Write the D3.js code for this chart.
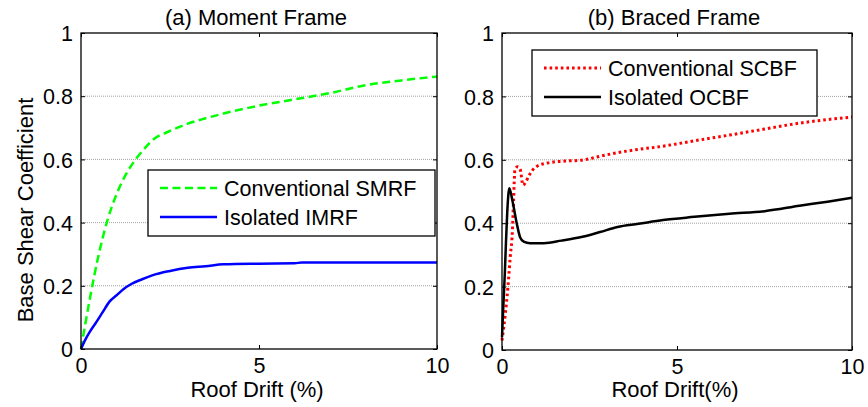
<!DOCTYPE html>
<html>
<head>
<meta charset="utf-8">
<script src="https://cdn.jsdelivr.net/npm/d3@7"></script>
<style>
  body { margin: 0; background: #fff; }
  svg text { font-family: "Liberation Sans", Arial, sans-serif; fill: #000; }
</style>
</head>
<body>
<svg width="868" height="407"></svg>
<script>
// ---- data ----
const xTicks = [0, 5, 10];
const yTicks = [0, 0.2, 0.4, 0.6, 0.8, 1];
const yTickLabels = ["0", "0.2", "0.4", "0.6", "0.8", "1"];

// (a) moment frame
const smrfDrift = [0, 0.25, 0.5, 0.75, 1.0, 1.25, 1.5, 1.75, 2.0, 2.5, 3.0, 3.5, 4.0, 5.0, 6.0, 7.0, 8.0, 9.0, 10];
const smrfShear = [0, 0.16, 0.30, 0.41, 0.49, 0.55, 0.595, 0.63, 0.66, 0.69, 0.713, 0.73, 0.745, 0.77, 0.79, 0.81, 0.835, 0.85, 0.862];
const imrfDrift = [0, 0.1, 0.25, 0.4, 0.6, 0.8, 1.0, 1.2, 1.4, 1.7, 2.0, 2.5, 3.0, 3.5, 4.0, 5.0, 6.0, 6.2, 8.0, 10];
const imrfShear = [0, 0.025, 0.055, 0.08, 0.115, 0.15, 0.17, 0.19, 0.205, 0.22, 0.233, 0.247, 0.257, 0.262, 0.268, 0.27, 0.271, 0.274, 0.274, 0.274];

// (b) braced frame
const scbfDrift = [0, 0.1, 0.17, 0.24, 0.29, 0.33, 0.37, 0.45, 0.52, 0.6, 0.68, 0.78, 0.95, 1.3, 1.8, 2.2, 3.0, 3.6, 4.6, 5.5, 6.5, 7.5, 8.4, 9.3, 10];
const scbfShear = [0.03, 0.12, 0.2, 0.3, 0.36, 0.47, 0.57, 0.578, 0.57, 0.52, 0.53, 0.552, 0.576, 0.59, 0.596, 0.598, 0.616, 0.628, 0.643, 0.66, 0.678, 0.697, 0.714, 0.727, 0.735];
const ocbfDrift = [0, 0.03, 0.08, 0.11, 0.15, 0.21, 0.3, 0.42, 0.52, 0.62, 0.8, 1.2, 1.7, 2.3, 2.8, 3.3, 3.9, 4.6, 5.5, 6.5, 7.5, 8.5, 9.3, 10];
const ocbfShear = [0.04, 0.12, 0.24, 0.33, 0.435, 0.51, 0.47, 0.40, 0.355, 0.342, 0.337, 0.337, 0.345, 0.357, 0.372, 0.388, 0.398, 0.41, 0.42, 0.43, 0.438, 0.455, 0.468, 0.48];

const svg = d3.select("svg");

const panels = [
    {
        title: "(a) Moment Frame", xLabel: "Roof Drift (%)", yLabel: "Base Shear Coefficient",
        left: 81, right: 437, top: 33, bottom: 349,
        legend: { x: 148, y: 170, w: 287, h: 66 },
        series: [
            { name: "Conventional SMRF", xs: smrfDrift, ys: smrfShear, color: "#00ff00", width: 2.5, dash: "8,4.5" },
            { name: "Isolated IMRF", xs: imrfDrift, ys: imrfShear, color: "#0000ff", width: 2.5, dash: null }
        ]
    },
    {
        title: "(b) Braced Frame", xLabel: "Roof Drift(%)", yLabel: null,
        left: 502, right: 852, top: 33, bottom: 350,
        legend: { x: 532, y: 50, w: 285, h: 66 },
        series: [
            { name: "Conventional SCBF", xs: scbfDrift, ys: scbfShear, color: "#ff0000", width: 3, dash: "2.6,3" },
            { name: "Isolated OCBF", xs: ocbfDrift, ys: ocbfShear, color: "#000000", width: 2.5, dash: null }
        ]
    }
];

panels.forEach(function(p) {
    const x = d3.scaleLinear().domain([0, 10]).range([p.left, p.right]);
    const y = d3.scaleLinear().domain([0, 1]).range([p.bottom, p.top]);
    const g = svg.append("g");

    // dotted horizontal grid
    g.selectAll(".grid")
        .data(yTicks.filter(function(d) { return d > 0 && d < 1; }))
        .enter().append("line")
        .attr("x1", p.left).attr("x2", p.right)
        .attr("y1", function(d) { return y(d); })
        .attr("y2", function(d) { return y(d); })
        .attr("stroke", "#a0a0a0")
        .attr("stroke-width", 1)
        .attr("stroke-dasharray", "1,1");

    // curves
    const line = d3.line()
        .x(function(d) { return x(d[0]); })
        .y(function(d) { return y(d[1]); })
        .curve(d3.curveMonotoneX);

    p.series.forEach(function(s) {
        const pts = s.xs.map(function(v, i) { return [v, s.ys[i]]; });
        g.append("path")
            .attr("d", line(pts))
            .attr("fill", "none")
            .attr("stroke", s.color)
            .attr("stroke-width", s.width)
            .attr("stroke-linejoin", "round")
            .attr("stroke-dasharray", s.dash);
    });

    // axes box
    g.append("rect")
        .attr("x", p.left).attr("y", p.top)
        .attr("width", p.right - p.left).attr("height", p.bottom - p.top)
        .attr("fill", "none").attr("stroke", "#000").attr("stroke-width", 1.3);

    // inward ticks, all four sides
    const yAxisL = d3.axisLeft(y).tickValues(yTicks).tickSize(-4).tickFormat(function(d, i) { return yTickLabels[i]; }).tickPadding(8);
    const yAxisR = d3.axisRight(y).tickValues(yTicks).tickSize(-4).tickFormat("");
    const xAxisB = d3.axisBottom(x).tickValues(xTicks).tickSize(-4).tickFormat(d3.format("d")).tickPadding(8);
    const xAxisT = d3.axisTop(x).tickValues(xTicks).tickSize(-4).tickFormat("");

    const gl = g.append("g").attr("transform", "translate(" + p.left + ",0)").call(yAxisL);
    g.append("g").attr("transform", "translate(" + p.right + ",0)").call(yAxisR);
    const gb = g.append("g").attr("transform", "translate(0," + p.bottom + ")").call(xAxisB);
    g.append("g").attr("transform", "translate(0," + p.top + ")").call(xAxisT);

    g.selectAll(".domain").remove();
    g.selectAll(".tick line").attr("stroke", "#000");
    gl.selectAll("text").attr("font-size", "21.5px").attr("dy", "0.36em");
    gb.selectAll("text").attr("font-size", "21.5px").attr("dy", "0.75em");

    // title + labels
    g.append("text")
        .attr("x", (p.left + p.right) / 2 - 3).attr("y", 25)
        .attr("text-anchor", "middle").attr("font-size", "22px")
        .text(p.title);

    g.append("text")
        .attr("x", (p.left + p.right) / 2 - 2).attr("y", 397)
        .attr("text-anchor", "middle").attr("font-size", "22px")
        .text(p.xLabel);

    if (p.yLabel) {
        g.append("text")
            .attr("transform", "translate(33,210) rotate(-90)")
            .attr("text-anchor", "middle").attr("font-size", "22px")
            .text(p.yLabel);
    }

    // legend
    const lg = g.append("g").attr("transform", "translate(" + p.legend.x + "," + p.legend.y + ")");
    lg.append("rect")
        .attr("width", p.legend.w).attr("height", p.legend.h)
        .attr("fill", "#fff").attr("stroke", "#000").attr("stroke-width", 1.3);
    p.series.forEach(function(s, i) {
        const cy = 18 + i * 29;
        lg.append("line")
            .attr("x1", 12).attr("x2", 69)
            .attr("y1", cy).attr("y2", cy)
            .attr("stroke", s.color)
            .attr("stroke-width", s.width)
            .attr("stroke-dasharray", s.dash);
        lg.append("text")
            .attr("x", 76).attr("y", cy)
            .attr("dy", "0.36em")
            .attr("font-size", "21.5px")
            .text(s.name);
    });
});
</script>
</body>
</html>
